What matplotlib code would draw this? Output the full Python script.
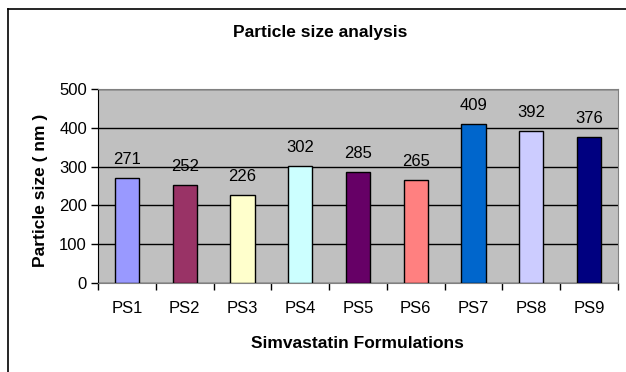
import matplotlib
matplotlib.use("Agg")
import matplotlib.pyplot as plt
from matplotlib.lines import Line2D

plt.rcParams['font.family'] = ['Liberation Sans', 'DejaVu Sans']

# data
formulations = ["PS1", "PS2", "PS3", "PS4", "PS5", "PS6", "PS7", "PS8", "PS9"]
sizes = [271, 252, 226, 302, 285, 265, 409, 392, 376]
bar_colors = ["#9999FF", "#993366", "#FFFFCC", "#CCFFFF", "#660066",
              "#FF8080", "#0066CC", "#CCCCFF", "#000080"]
yticks = [0, 100, 200, 300, 400, 500]

W, H = 626, 372
fig = plt.figure(figsize=(W / 100, H / 100), dpi=100)
ax = fig.add_axes([98 / W, 1 - 283 / H, (618 - 98) / W, (283 - 89) / H])

x = list(range(len(formulations)))
ax.bar(x, sizes, width=0.42, color=bar_colors, edgecolor="black", linewidth=1, zorder=3)

#value labels above each bar
for xi, v in zip(x, sizes):
    ax.annotate(str(v), (xi, v), xytext=(0, 8), textcoords="offset points",
                ha="center", va="bottom", fontsize=12)

ax.set_facecolor("#C0C0C0")
ax.set_xlim(-0.5, len(formulations) - 0.5)
ax.set_ylim(0, 500)
ax.set_yticks(yticks)
ax.tick_params(axis="y", labelsize=12, direction="out", length=5, width=1, pad=3)
ax.yaxis.grid(True, color="black", linewidth=1, zorder=1)
ax.set_axisbelow(True)

# category ticks sit between bars, labels centred
ax.set_xticks([i - 0.5 for i in range(len(formulations) + 1)])
ax.set_xticklabels([])
ax.set_xticks(x, minor=True)
ax.set_xticklabels(formulations, minor=True, fontsize=12)
ax.tick_params(axis="x", which="major", direction="out", length=5, width=1)
ax.tick_params(axis="x", which="minor", length=0, pad=13)

for s in ["top", "right"]:
    ax.spines[s].set_color("#808080")
ax.spines["left"].set_color("black")
ax.spines["bottom"].set_color("#808080")

fig.text(41 / W, 1 - 190 / H, "Particle size ( nm )", rotation=90, ha="center", va="center",
         fontsize=12.5, fontweight="bold")
fig.text(357 / W, 1 - 344 / H, "Simvastatin Formulations", ha="center", va="center",
         fontsize=12.5, fontweight="bold")
fig.text(320 / W, 1 - 33 / H, "Particle size analysis", ha="center", va="center",
         fontsize=12.5, fontweight="bold")

# outer chart frame (runs off the right and bottom edges)
fig.add_artist(Line2D([8 / W, 8 / W], [0, 1 - 9 / H], transform=fig.transFigure,
                      color="black", linewidth=1.2))
fig.add_artist(Line2D([8 / W, 1], [1 - 9 / H, 1 - 9 / H], transform=fig.transFigure,
                      color="black", linewidth=1.2))

fig.savefig("out.png", dpi=100)
